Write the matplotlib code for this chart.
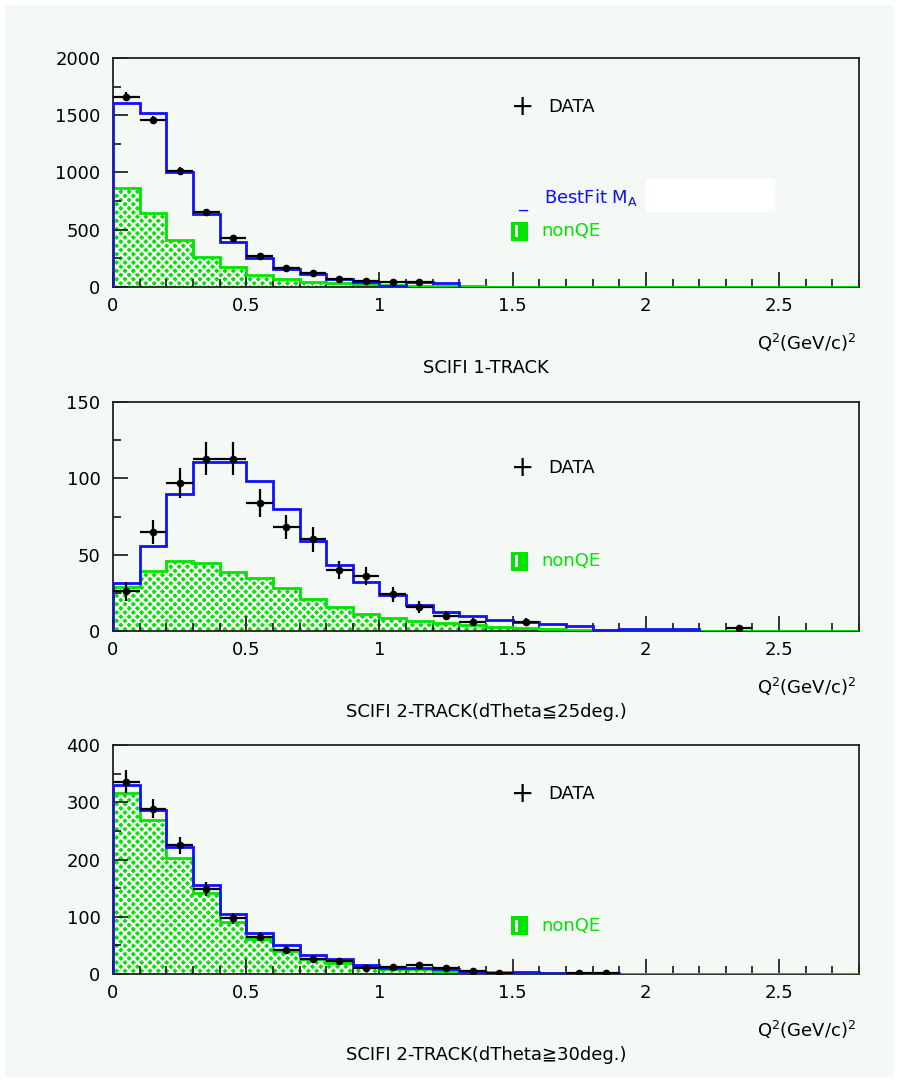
"""Q^2 distributions for SCIFI samples: data vs best fit and nonQE."""
import numpy as np
import matplotlib
matplotlib.use("Agg")
import matplotlib.pyplot as plt
from matplotlib.patches import Rectangle
from matplotlib.ticker import MultipleLocator, FuncFormatter

nan = np.nan
BIN_W = 0.1

# --- SCIFI 1-TRACK --------------------------------------------------------
data_1trk = [1662, 1458, 1016, 658, 425, 271, 163, 125, 72, 48, 40, 45]
err_1trk = [41, 38, 32, 26, 21, 16, 13, 11, 9, 7, 6, 7]
fit_1trk = [1610, 1517, 1007, 638, 390, 250, 157, 113, 67, 47, 5, 44, 32]
nonqe_1trk = [867, 649, 410, 265, 177, 102, 67, 47, 38, 30, 15, 10, 8,
              5, 3, 2, 1, 1, 0, 0, 0, 0, 0, 0, 0, 0, 0, 0]

# --- SCIFI 2-TRACK (dTheta <= 25 deg) -------------------------------------
data_2lo = [26, 65, 97, 113, 113, 84, 68, 60, 40, 36, 24, 15.5, 10, 6, nan,
            6, nan, nan, nan, nan, nan, nan, nan, 2]
err_2lo = [6, 8, 10, 11, 11, 9, 8, 8, 6, 6, 5, 4, 3, 2.5, nan,
           2.5, nan, nan, nan, nan, nan, nan, nan, 1]
fit_2lo = [31.6, 56, 90, 111, 111, 98.4, 80, 59, 43, 32, 23.6, 17, 12.6,
           10, 7.5, 6, 4.4, 3.3, 0.5, 1.5, 1.5, 1.5]
nonqe_2lo = [29, 39, 45.6, 44.3, 38.8, 34.5, 27.9, 20.9, 15.9, 11.1, 8.7,
             6.5, 5.0, 3.9, 2.8, 2.2, 1.5, 1.0, 0.8, 0.5, 0.3, 0.2, 0.1,
             0.1, 0, 0, 0, 0]

# --- SCIFI 2-TRACK (dTheta >= 30 deg) -------------------------------------
data_2hi = [336, 289, 225, 148, 97, 65, 42, 26, 23, 10, 12, 16, 11, 6, 2,
            nan, nan, 2, 2]
err_2hi = [20, 17, 15, 12, 10, 8, 6.5, 5, 5, 3, 3.5, 4, 3.5, 2.5, 1,
           nan, nan, 1, 1]
fit_2hi = [330, 286, 222, 155, 105, 72, 51, 33, 26, 15, 11, 11, 8, 3, 2.5,
           3.5, 2, 2, 2]
nonqe_2hi = [316, 269, 202, 141, 91, 62, 41, 27, 19, 14, 8, 8, 6, 4, 3, 2,
             1.5, 1, 0.5, 0.3, 0, 0, 0, 0, 0, 0, 0, 0]

TITLES = ["SCIFI 1-TRACK",
          "SCIFI 2-TRACK(dTheta\u226625deg.)",
          "SCIFI 2-TRACK(dTheta\u226730deg.)"]
YMAX = [2000, 150, 400]
YMAJOR = [500, 50, 100]

BG = "#f5f9f6"
GREEN = "#00e400"
FONT = ["DejaVu Sans", "Noto Sans CJK JP"]

plt.rcParams.update({
    "font.family": FONT,
    "font.size": 13,
    "hatch.linewidth": 1.6,
    "axes.linewidth": 1.3,
})


def edges(n):
    return np.arange(n + 1) * BIN_W


def draw_panel(ax, data, err, fit, nonqe, ymax, ymajor, title):
    ax.set_facecolor(BG)
    e = edges(len(nonqe))
    ax.stairs(nonqe, e, fill=True, facecolor=GREEN, edgecolor="white",
              hatch="xxxx", linewidth=0, zorder=1)
    ax.stairs(nonqe, e, color=GREEN, linewidth=2.0, zorder=3)
    ax.stairs(fit, edges(len(fit)), color="#1010ff", linewidth=2.0, zorder=4)
    data = np.asarray(data, float)
    centers = edges(len(data))[:-1] + BIN_W / 2
    ax.errorbar(centers, data, xerr=BIN_W / 2, yerr=err, fmt="o",
                color="black", ms=4.5, elinewidth=1.6, capsize=0, zorder=5)

    ax.set_xlim(0, 2.8)
    ax.set_ylim(0, ymax)
    ax.xaxis.set_major_locator(MultipleLocator(0.5))
    ax.xaxis.set_minor_locator(MultipleLocator(0.1))
    ax.yaxis.set_major_locator(MultipleLocator(ymajor))
    ax.yaxis.set_minor_locator(MultipleLocator(ymajor / 2))
    ax.xaxis.set_major_formatter(FuncFormatter(lambda v, p: f"{v:g}"))
    ax.yaxis.set_major_formatter(FuncFormatter(lambda v, p: f"{v:g}"))
    ax.tick_params(which="both", direction="in", top=False, right=False,
                   width=1.1, labelsize=13)
    ax.tick_params(which="major", length=11)
    ax.tick_params(which="minor", length=5.5)
    ax.tick_params(axis="x", pad=7)
    ax.tick_params(axis="y", pad=9)
    for s in ax.spines.values():
        s.set_color("#222222")

    ax.text(0.9955, -0.245, "Q$^2$(GeV/c)$^2$", transform=ax.transAxes,
            ha="right", va="center", fontsize=13)
    ax.text(0.5, -0.354, title, transform=ax.transAxes, ha="center",
            va="center", fontsize=13)


fig = plt.figure(figsize=(9.02, 10.85), dpi=100, facecolor="white")
fig.patches.append(Rectangle((5 / 902, 8 / 1085), 1 - 13 / 902, 1 - 13 / 1085,
                             transform=fig.transFigure, facecolor=BG,
                             edgecolor="none", zorder=-10))

panels = [
    (data_1trk, err_1trk, fit_1trk, nonqe_1trk, 0.7355, 0.786, 0.245, 0.202),
    (data_2lo, err_2lo, fit_2lo, nonqe_2lo, 0.4184, 0.712, 0.306, 0.263),
    (data_2hi, err_2hi, fit_2hi, nonqe_2hi, 0.1023, 0.786, 0.21, 0.170),
]
ax_left, ax_w, ax_h = 113 / 902, 746 / 902, 229 / 1085

for i, (d, er, f, nq, bottom, y_data, y_nq, y_box) in enumerate(panels):
    ax = fig.add_axes([ax_left, bottom, ax_w, ax_h])
    draw_panel(ax, d, er, f, nq, YMAX[i], YMAJOR[i], TITLES[i])

    # legend-like annotations, drawn as in the original frame
    ax.text(0.5496, y_data, "+", transform=ax.transAxes, ha="center",
            va="center", fontsize=20, color="black")
    ax.text(0.583, y_data, "DATA", transform=ax.transAxes, ha="left",
            va="center", fontsize=13)
    ax.add_patch(Rectangle((0.534, y_box), 0.0223, 0.083,
                           transform=ax.transAxes, facecolor=GREEN,
                           edgecolor="none", zorder=6))
    ax.add_patch(Rectangle((0.539, y_box + 0.015), 0.004, 0.053,
                           transform=ax.transAxes, facecolor="white",
                           edgecolor="none", zorder=7))
    ax.text(0.574, y_nq, "nonQE", transform=ax.transAxes, ha="left",
            va="center", fontsize=13, color=GREEN)
    if i == 0:
        ax.text(0.5496, 0.37, "_", transform=ax.transAxes, ha="center",
                va="center", fontsize=13, color="#1010ff")
        ax.text(0.578, 0.389, r"BestFit M$_\mathregular{A}$",
                transform=ax.transAxes, ha="left", va="center",
                fontsize=13, color="#1010ff")
        ax.add_patch(Rectangle((0.714, 0.329), 0.173, 0.143,
                               transform=ax.transAxes, facecolor="white",
                               edgecolor="none", zorder=8))

fig.savefig("out.png", dpi=100, facecolor="white")
